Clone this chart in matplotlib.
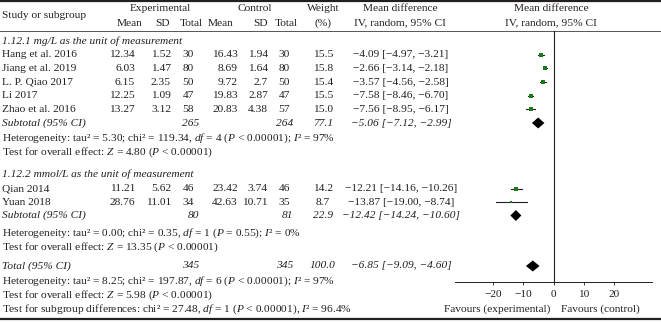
import matplotlib.pyplot as plt
from matplotlib.patches import Polygon

plt.rcParams['font.family'] = ['Liberation Serif', 'DejaVu Serif']
plt.rcParams['mathtext.fontset'] = 'custom'
plt.rcParams['mathtext.rm'] = 'Liberation Serif'
plt.rcParams['mathtext.it'] = 'Liberation Serif:italic'

# data
studies_1 = ['Hang et al. 2016', 'Jiang et al. 2019', 'L. P. Qiao 2017', 'Li 2017', 'Zhao et al. 2016']
exp_mean_1 = ['12.34', '6.03', '6.15', '12.25', '13.27']
exp_sd_1 = ['1.52', '1.47', '2.35', '1.09', '3.12']
exp_n_1 = [30, 80, 50, 47, 58]
ctl_mean_1 = ['16.43', '8.69', '9.72', '19.83', '20.83']
ctl_sd_1 = ['1.94', '1.64', '2.7', '2.87', '4.38']
ctl_n_1 = [30, 80, 50, 47, 57]
weight_1 = [15.5, 15.8, 15.4, 15.5, 15.0]
md_1 = [-4.09, -2.66, -3.57, -7.58, -7.56]
lo_1 = [-4.97, -3.14, -4.56, -8.46, -8.95]
hi_1 = [-3.21, -2.18, -2.58, -6.70, -6.17]

studies_2 = ['Qian 2014', 'Yuan 2018']
exp_mean_2 = ['11.21', '28.76']
exp_sd_2 = ['5.62', '11.01']
exp_n_2 = [46, 34]
ctl_mean_2 = ['23.42', '42.63']
ctl_sd_2 = ['3.74', '10.71']
ctl_n_2 = [46, 35]
weight_2 = [14.2, 8.7]
md_2 = [-12.21, -13.87]
lo_2 = [-14.16, -19.00]
hi_2 = [-10.26, -8.74]

# subtotal / total: (label, exp n, ctl n, weight, md, lo, hi)
sub_1 = ('Subtotal (95% CI)', 265, 264, 77.1, -5.06, -7.12, -2.99)
sub_2 = ('Subtotal (95% CI)', 80, 81, 22.9, -12.42, -14.24, -10.60)
total = ('Total (95% CI)', 345, 345, 100.0, -6.85, -9.09, -4.60)

ticks = [-20, -10, 0, 10, 20]

W, H = 661, 322
fig = plt.figure(figsize=(W / 100, H / 100), dpi=100)
bg = fig.add_axes([0, 0, 1, 1])
bg.set_xlim(0, W)
bg.set_ylim(H, 0)
bg.axis('off')

tc = '#231f20'
fs = 8.2

def txt(x, y, s, ha='left', style='normal'):
    bg.text(x, y, s, ha=ha, va='center', fontsize=fs, color=tc, style=style)

# rules
bg.plot([0, W], [1, 1], color=tc, lw=1.6)
bg.plot([0, W], [30.5, 30.5], color='#555555', lw=0.7)
bg.plot([0, W], [319, 319], color=tc, lw=1.6)

# header
txt(2, 15, 'Study or subgroup')
txt(160, 8, 'Experimental', ha='center')
txt(255, 8, 'Control', ha='center')
txt(323, 8, 'Weight', ha='center')
txt(323, 23, '(%)', ha='center')
txt(400, 8, 'Mean difference', ha='center')
txt(400, 23, 'IV, random, 95% CI', ha='center')
txt(551, 8, 'Mean difference', ha='center')
txt(551, 23, 'IV, random, 95% CI', ha='center')
for x, s in [(142, 'Mean'), (170, 'SD'), (203, 'Total'), (233, 'Mean'), (268, 'SD'), (298, 'Total')]:
    txt(x, 23, s, ha='right')

# forest axes
x0, x1 = 455, 652
y_top, y_bot = 31, 282
ax = fig.add_axes([x0 / W, (H - y_bot) / H, (x1 - x0) / W, (y_bot - y_top) / H])
ax.set_xlim(-32.5, 32.5)
ax.set_ylim(y_bot, y_top)
ax.patch.set_alpha(0)
for s in ['top', 'left', 'right']:
    ax.spines[s].set_visible(False)
ax.spines['bottom'].set_linewidth(0.7)
ax.spines['bottom'].set_color(tc)
ax.set_yticks([])
ax.set_xticks(ticks)
ax.set_xticklabels([str(t).replace('-', '\u2212') for t in ticks])
ax.tick_params(axis='x', length=2, width=0.6, color=tc, labelsize=fs, labelcolor=tc, pad=4)
ax.axvline(0, color=tc, lw=0.8)

def fmt(v):
    return f'{v:.2f}'.replace('-', '\u2212')

def study_rows(ys, names, em, es, en, cm, cs, cn, w, md, lo, hi):
    for i, y in enumerate(ys):
        txt(2, y, names[i])
        txt(135, y, em[i], ha='right')
        txt(171, y, es[i], ha='right')
        txt(194, y, str(en[i]), ha='right')
        txt(238, y, cm[i], ha='right')
        txt(268, y, cs[i], ha='right')
        txt(290, y, str(cn[i]), ha='right')
        txt(323, y, f'{w[i]:.1f}', ha='center')
        txt(401, y, f'{fmt(md[i])} [{fmt(lo[i])}, {fmt(hi[i])}]', ha='center')
        ax.plot([lo[i], hi[i]], [y, y], color=tc, lw=0.8)
        ax.plot(md[i], y, marker='s', color='#1a7a1a', ms=0.72 * w[i] ** 0.5, mew=0)

def summary_row(y, row):
    label, en, cn, w, md, lo, hi = row
    txt(2, y, label, style='italic')
    txt(199, y, str(en), ha='right', style='italic')
    txt(293, y, str(cn), ha='right', style='italic')
    txt(323, y, f'{w:.1f}', ha='center', style='italic')
    txt(401, y, f'{fmt(md)} [{fmt(lo)}, {fmt(hi)}]', ha='center', style='italic')
    ax.add_patch(Polygon([[lo, y], [md, y - 5.5], [hi, y], [md, y + 5.5]],
                         closed=True, color='black', lw=0))

# group 1
txt(2, 41, '1.12.1 mg/L as the unit of measurement', style='italic')
study_rows([54.5, 68, 82, 95.5, 109], studies_1, exp_mean_1, exp_sd_1, exp_n_1,
           ctl_mean_1, ctl_sd_1, ctl_n_1, weight_1, md_1, lo_1, hi_1)
summary_row(123, sub_1)
txt(2, 138, r'Heterogeneity: tau² = 5.30; chi² = 119.34, $df$ = 4 ($P$ < 0.00001); $I$² = 97%')
txt(2, 152, r'Test for overall effect: $Z$ = 4.80 ($P$ < 0.00001)')

# group 2
txt(2, 174, '1.12.2 mmol/L as the unit of measurement', style='italic')
study_rows([188.5, 202], studies_2, exp_mean_2, exp_sd_2, exp_n_2,
           ctl_mean_2, ctl_sd_2, ctl_n_2, weight_2, md_2, lo_2, hi_2)
summary_row(215.5, sub_2)
txt(2, 233, r'Heterogeneity: tau² = 0.00; chi² = 0.35, $df$ = 1 ($P$ = 0.55); $I$² = 0%')
txt(2, 247, r'Test for overall effect: $Z$ = 13.35 ($P$ < 0.00001)')

# total
summary_row(266, total)
txt(2, 281, r'Heterogeneity: tau² = 8.25; chi² = 197.87, $df$ = 6 ($P$ < 0.00001); $I$² = 97%')
txt(2, 295, r'Test for overall effect: $Z$ = 5.98 ($P$ < 0.00001)')
txt(2, 309, r'Test for subgroup differences: chi² = 27.48, $df$ = 1 ($P$ < 0.00001), $I$² = 96.4%')

txt(550, 309, 'Favours (experimental)', ha='right')
txt(561, 309, 'Favours (control)', ha='left')

fig.savefig('out.png', dpi=100)
